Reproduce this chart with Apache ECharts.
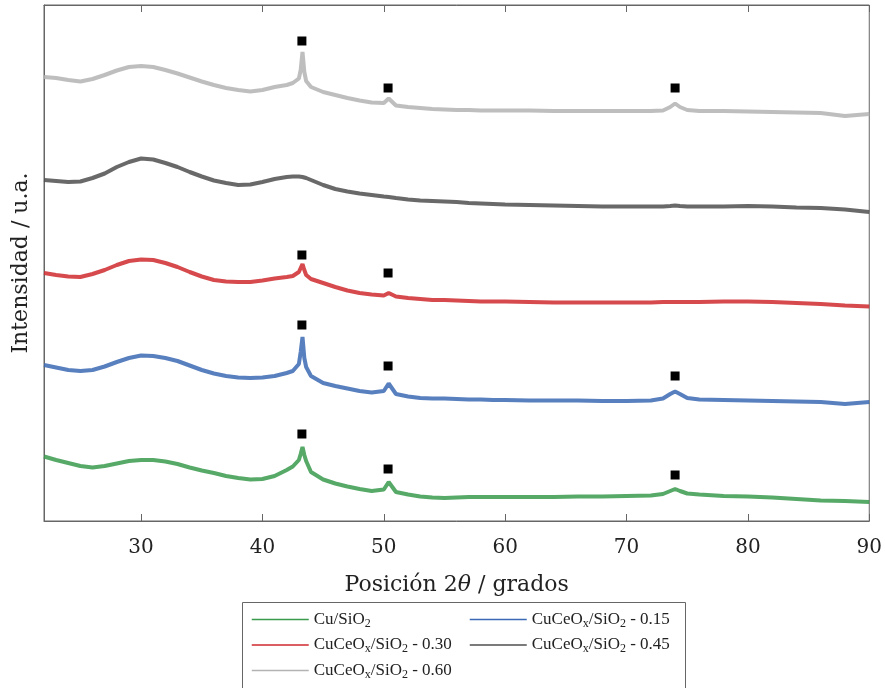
<!DOCTYPE html>
<html>
<head>
<meta charset="utf-8">
<script src="https://cdn.jsdelivr.net/npm/echarts@6/dist/echarts.min.js"></script>
<style>html,body{margin:0;padding:0;background:#fff}#c{width:885px;height:688px}</style>
</head>
<body>
<div id="c"></div>
<script>
// 2θ sampling grid (degrees)
var angles = [22,23,24,25,26,27,28,29,30,31,32,33,34,35,36,37,38,39,40,41,42,42.5,43,43.15,43.3,43.45,43.6,44,45,46,47,48,49,50,50.4,51,52,53,54,55,56,57,58,59,60,62,64,66,68,70,72,73,73.6,74,74.4,75,76,78,80,82,84,86,88,90];

// intensities (a.u., already vertically offset as in the figure)
var cuSiO2 = [64.5,61,58,55,53.5,55,57.5,60,61,61,59.5,57,53.5,50.5,48,45,43,41.5,42,45,51,54.5,61,67,74,66,60,49,41.5,37.5,34.5,32,30,31.5,39,29,26.5,24.5,23.5,23,23.5,24,24,24,24,24,24,24.5,24.5,25,25.5,27,30,32,30,27.5,26.5,25,24.5,23.5,22,20.5,20,19];
var cuCe015 = [156,153.5,151,150,151,154.5,159,163,165.5,165,163,160,155.5,151,147.5,145,143.5,143,143.5,145,148,150,157,169,184,163,154,145,138,135,132.5,130,128.5,130,137.5,127,124.5,123,122.5,122.5,122,121.5,121.5,121,121,120.5,120.5,120.5,120,120,120.5,122.5,127,129.5,127,123,121.5,121,120.5,120,119.5,119,117,119];
var cuCe030 = [248,246,244.5,244,247,251,256,260,261.5,261,258,254,249,244.5,241,239.5,239,239,240.5,242.5,244,245,249,253,257,251,246,242,238,234,230.5,228,226.5,225.5,228,224.5,223,222,221,221,220.5,220,219.5,219.5,219.5,219,218.5,218.5,218.5,218.5,218.5,219,219,219,219,219,219,219.5,219.5,219,218,217,215.5,214.5];
var cuCe045 = [341,340,339,339.5,343,347.5,354,359,362.5,361.5,358,354,349,344.5,340.5,338,336,336.5,339,342,344,344.5,344.5,344,344,343.5,343,341,336,332,329.5,327.5,326,324.5,324,323,321.5,320.5,320,319.5,319,318,317.5,317,316.5,316,315.5,315,314.5,314.5,314.5,314.5,315,315.5,315,314.5,314.5,314.5,315,314.5,313.5,313,311.5,309];
var cuCe060 = [444,443,441,439.5,442,446,450.5,454,455,454,451,447.5,443.5,439.5,436,433,431,429.5,431,434,436,438,442.5,451,469,449,440,434,429,426,423,420.5,418.5,418,422.5,415.5,414,413,412,411.5,411,411,410.5,410.5,410.5,410.5,410,410,410,410,410,410.5,414,417.5,414,411,410,410,409.5,409,408.5,408,405,407];

// Cu reflection markers (■)
var markerX = [43.25,50.35,74.0, 43.25,50.35, 43.25,50.35,74.0, 43.25,50.35,74.0];
var markerY = [480,433,433, 266,248, 196,155,145, 87,52,46];

var xTicks = [30,40,50,60,70,80,90];
var seriesNames = ['Cu/SiO2','CuCeOx/SiO2 - 0.15','CuCeOx/SiO2 - 0.30','CuCeOx/SiO2 - 0.45','CuCeOx/SiO2 - 0.60'];
var seriesData = [cuSiO2, cuCe015, cuCe030, cuCe045, cuCe060];
var colors = ['#3a9a4d','#3b69b3','#cf2a2e','#4f4f50','#b3b3b3'];

var FONT = 'DejaVu Serif';
var LFONT = 'Liberation Serif';

function pairs(xs, ys){ return xs.map(function(x,i){ return [x, ys[i]]; }); }

var series = seriesData.map(function(d,i){
  return {
    name: seriesNames[i], type:'line', data: pairs(angles,d), symbol:'none',
    color: colors[i],
    lineStyle:{ color: colors[i], width: 4, opacity: 0.85 },
    z: 2
  };
});
series.push({
  name:'markers', type:'scatter', data: pairs(markerX, markerY),
  symbol:'rect', symbolSize:9, itemStyle:{ color:'#000', opacity:1 }, z: 5
});

var richLegend = {
  t:{ fontFamily: LFONT, fontSize: 17, color:'#222', lineHeight: 20 },
  s:{ fontFamily: LFONT, fontSize: 12, color:'#222', lineHeight: 12, verticalAlign:'bottom' }
};
function legendFmt(name){
  var m = /^(Cu(?:CeO)?)(x?)\/SiO2(.*)$/.exec(name);
  if (!m) return name;
  var out = '{t|' + m[1] + '}';
  if (m[2]) out += '{s|x}';
  out += '{t|/SiO}{s|2}';
  if (m[3]) out += '{t|' + m[3] + '}';
  return out;
}

function makeLegend(left, names){
  return {
    orient:'vertical', left:left, top:606, itemWidth:57, itemHeight:12, itemGap:7,
    data: names,
    formatter: legendFmt,
    lineStyle:{ width:1.5, opacity:1 },
    itemStyle:{ opacity:0 },
    textStyle:{ rich: richLegend, fontFamily: LFONT, fontSize:17, color:'#222' },
    selectedMode:false
  };
}

var chart = echarts.init(document.getElementById('c'), null, {renderer:'canvas'});
chart.setOption({
  animation:false,
  backgroundColor:'#fff',
  grid:{ left:44, right:15, top:5, bottom:167, show:true, borderColor:'#666', borderWidth:1 },
  xAxis:[{
    type:'value', min:22, max:90, position:'bottom',
    name:'Posición 2{it|θ} / grados', nameLocation:'middle', nameGap:53,
    nameTextStyle:{ fontFamily:FONT, fontSize:22, color:'#222',
      rich:{ it:{ fontFamily:FONT, fontStyle:'italic', fontSize:22, color:'#222' } } },
    axisLine:{ show:true, lineStyle:{ color:'#666', width:1 } },
    axisTick:{ show:true, inside:true, length:7, customValues: xTicks, lineStyle:{ color:'#666' } },
    axisLabel:{ customValues: xTicks, margin:17, fontFamily:FONT, fontSize:20, color:'#222' },
    splitLine:{ show:false }
  },{
    type:'value', min:22, max:90, position:'top',
    axisLine:{ show:true, lineStyle:{ color:'#666', width:1 } },
    axisTick:{ show:true, inside:true, length:7, customValues: xTicks, lineStyle:{ color:'#666' } },
    axisLabel:{ show:false }, splitLine:{ show:false }
  }],
  yAxis:{
    type:'value', min:0, max:516,
    name:'Intensidad / u.a.', nameLocation:'middle', nameGap:12,
    nameTextStyle:{ fontFamily:FONT, fontSize:22, color:'#222' },
    axisLine:{ show:true, lineStyle:{ color:'#666', width:1 } },
    axisTick:{ show:false }, axisLabel:{ show:false }, splitLine:{ show:false }
  },
  legend:[
    makeLegend(246, [seriesNames[0], seriesNames[2], seriesNames[4]]),
    makeLegend(464, [seriesNames[1], seriesNames[3]])
  ],
  graphic:[{
    type:'rect', left:240, top:600, shape:{ width:443, height:100 },
    style:{ fill:'none', stroke:'#666', lineWidth:1 }, silent:true, z:-1
  }],
  series: series
});
</script>
</body>
</html>
